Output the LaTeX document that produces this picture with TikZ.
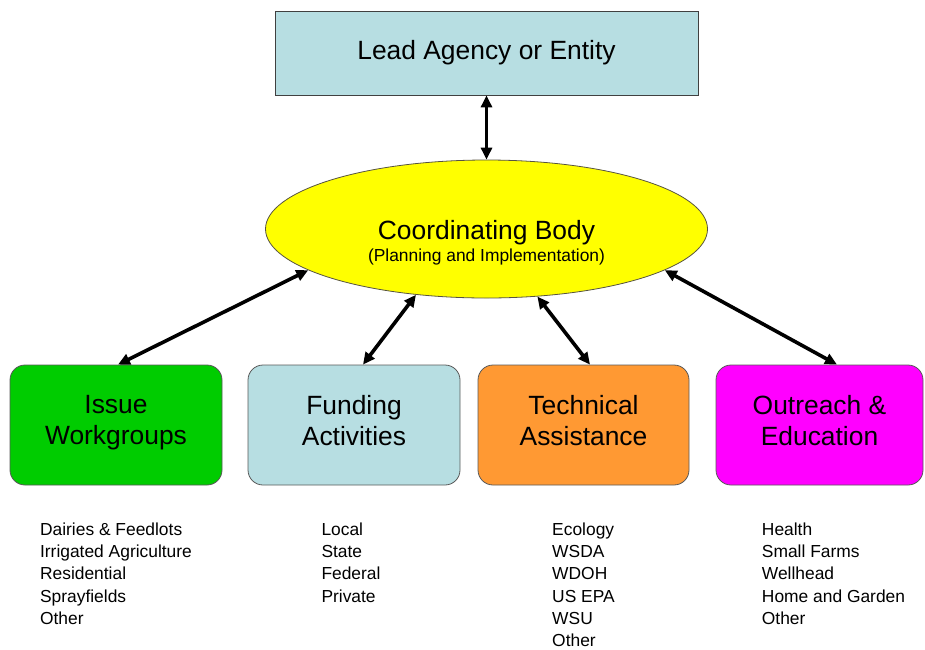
\documentclass[tikz,border=0pt]{standalone}
\usepackage{fontspec}
\setmainfont{Liberation Sans}
\usetikzlibrary{shapes.geometric,arrows.meta,positioning}
\definecolor{paleblue}{RGB}{183,222,226}
\definecolor{leafgreen}{RGB}{0,204,0}
\definecolor{tangerine}{RGB}{255,153,51}
\definecolor{hotpink}{RGB}{255,0,255}
\definecolor{lemon}{RGB}{255,255,0}
\tikzset{
	bigfont/.style = { font=\fontsize{13.2}{15.5}\selectfont },
	box/.style = { bigfont, draw=black!65, rounded corners=7.5pt, minimum width=106pt, minimum height=60pt, align=center,
		execute at begin node={\rule{0pt}{13.9pt}}, execute at end node=\strut },
	list/.style = { font=\fontsize{8.7}{11.1}\selectfont, align=left, inner sep=0pt, below=18.5pt of #1 },
	arrow/.style = { line width=1.8pt, color=black, {Triangle[length=6pt,width=5.5pt]}-{Triangle[length=6pt,width=5.5pt]} },
}

\begin{document}
\begin{tikzpicture}[x=0.5pt,y=-0.5pt]
\useasboundingbox (0,0) rectangle (925,649);

\node[bigfont, draw=black!75, fill=paleblue, minimum width=211.5pt, minimum height=42pt] (lead) at (486.5,53) {Lead Agency or Entity};
\node[ellipse, draw=black!60!yellow!60!black, fill=lemon, minimum width=221pt, minimum height=69pt,
	font=\fontsize{13.2}{11}\selectfont] (coord) at (486.5,229)
	{\raisebox{0pt}[23pt][13pt]{\begin{tabular}[t]{@{}c@{}}Coordinating Body\\{\fontsize{8.7}{11}\selectfont (Planning and Implementation)}\end{tabular}}};

\node[box, fill=leafgreen] (issue) at (116,425) {Issue\\Workgroups};
\node[box, fill=paleblue] (fund) at (354,425) {Funding\\Activities};
\node[box, fill=tangerine, minimum width=105.5pt] (tech) at (583.5,425) {Technical\\Assistance};
\node[box, fill=hotpink, minimum width=103.5pt] (outr) at (819.5,425) {Outreach \&\\Education};

\node[list=issue] (issuelist) {Dairies \& Feedlots\\Irrigated Agriculture\\Residential\\Sprayfields\\Other};
\node[list=fund, xshift=-1.5pt] (fundlist) {Local\\State\\Federal\\Private};
\node[list=tech] (techlist) {Ecology\\WSDA\\WDOH\\US EPA\\WSU\\Other};
\node[list=outr, xshift=7pt] (outrlist) {Health\\Small Farms\\Wellhead\\Home and Garden\\Other};

\draw[arrow] (lead) -- (coord);
\draw[arrow] (coord.193) -- ([xshift=1pt]issue.north);
\draw[arrow] (coord.223) -- ([xshift=4.5pt]fund.north);
\draw[arrow] (coord.307) -- ([xshift=3.25pt]tech.north);
\draw[arrow] (coord.347) -- ([xshift=8.75pt]outr.north);
\end{tikzpicture}
\end{document}
